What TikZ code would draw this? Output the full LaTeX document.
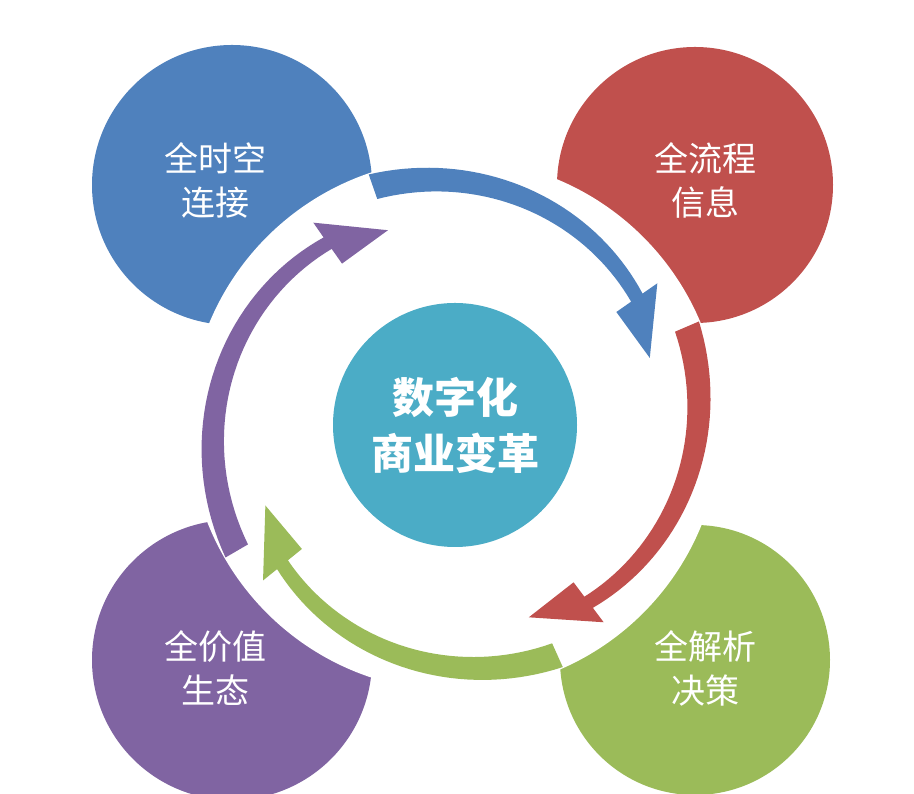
\documentclass[tikz,border=0pt]{standalone}
\usepackage{fontspec}
\newfontfamily\cjk{Noto Sans CJK SC}
\definecolor{cblue}{HTML}{4F81BD}
\definecolor{cred}{HTML}{C0504D}
\definecolor{cgreen}{HTML}{9BBB59}
\definecolor{cpurple}{HTML}{8064A2}
\definecolor{ccyan}{HTML}{4BACC6}
\newcommand\myarrow[3]{%
  \pgfmathsetmacro\hb{#3+16}%
  \fill[#1] plot[domain=0:1,samples=40] ({#2+(\hb-#2)*\x}:{252-30*\x+13-6*\x})
    -- ({\hb}:{222+25}) -- ({#3}:{206}) -- ({\hb}:{222-25})
    -- plot[domain=1:0,samples=40] ({#2+(\hb-#2)*\x}:{252-30*\x-13+6*\x}) -- cycle;}
\begin{document}
\begin{tikzpicture}[x=1pt,y=1pt,
  txt/.style={text=white,font=\cjk\fontsize{34}{44}\selectfont,align=center},
  ctxt/.style={text=white,font=\cjk\bfseries\fontsize{42}{56}\selectfont,align=center}]
\useasboundingbox (0,0) rectangle (914,794);
\fill[white] (0,0) rectangle (914,794);
\fill[cblue] (232,609) circle (140);
\fill[cred] (695,609) circle (138);
\fill[cgreen] (695,134) circle (135);
\fill[cpurple] (232,134) circle (140);
\fill[white] (455,369) circle (266);
\node[txt] (tb) at (215,614) {全时空\\连接};
\node[txt] (tr) at (705,614) {全流程\\信息};
\node[txt] (tg) at (705,126) {全解析\\决策};
\node[txt] (tp) at (215,126) {全价值\\生态};
\begin{scope}[shift={(455,369)}]
\myarrow{cblue}{109}{19}
\myarrow{cred}{23}{-69}
\myarrow{cgreen}{-66}{-157}
\myarrow{cpurple}{-150}{-251}
\end{scope}
\fill[ccyan] (455,369) circle (122);
\node[ctxt] (c) at (455,369) {数字化\\商业变革};
\end{tikzpicture}
\end{document}
